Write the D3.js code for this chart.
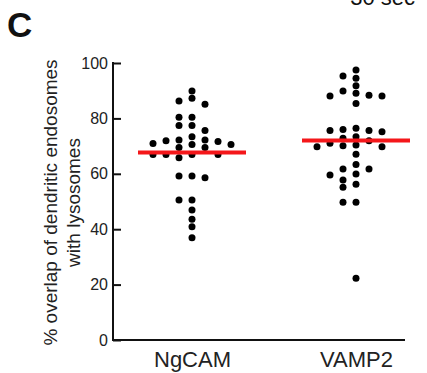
<!DOCTYPE html>
<html>
<head>
<meta charset="utf-8">
<script src="https://cdn.jsdelivr.net/npm/d3@7"></script>
<style>
  html, body { margin: 0; padding: 0; background: #fff; }
  svg { display: block; font-family: "Liberation Sans", Arial, sans-serif; }
</style>
</head>
<body>
<svg id="chart" width="427" height="373"></svg>
<script>
const categories = ["NgCAM", "VAMP2"];
const ngcamValues = [89.9, 87.3, 86.3, 85.1, 80.4, 80.4, 77.4, 77.4, 75.6, 73.4, 72.2, 72.2, 71.9, 71.7, 70.9, 70.6, 70.6, 69.5, 69.5, 67.0, 67.0, 67.0, 67.0, 65.8, 59.2, 59.2, 58.6, 50.5, 50.5, 46.9, 43.6, 40.9, 36.9];
const vamp2Values = [97.5, 95.3, 94.5, 91.8, 89.9, 89.1, 88.4, 88.1, 88.1, 85.4, 76.4, 76.0, 75.6, 75.6, 75.2, 73.4, 72.8, 71.9, 71.0, 70.4, 70.1, 69.8, 69.8, 67.1, 63.4, 61.7, 61.7, 59.9, 59.6, 57.8, 56.2, 55.1, 49.7, 49.7, 22.3];
const yTicks = [0, 20, 40, 60, 80, 100];
const panelLabel = "C";
const cornerText = "30 sec";
const yTitleLines = ["% overlap of dendritic endosomes", "with lysosomes"];

const seriesValues = [ngcamValues, vamp2Values];

const svg = d3.select("#chart");
const axisX = 113, plotRight = 405, yTop = 63, yBottom = 340;

const y = d3.scaleLinear().domain([0, 100]).range([yBottom, yTop]);
const x = d3.scalePoint().domain(categories).range([192, 356]);

// corner text (cut off at top, as in the reference)
svg.append("text").attr("x", 415).attr("y", 5).attr("text-anchor", "end")
  .attr("font-size", 22).attr("fill", "#111").text(cornerText);

// panel label
svg.append("text").attr("x", 7).attr("y", 37)
  .attr("font-size", 35).attr("font-weight", "bold").attr("fill", "#111").text(panelLabel);

// y axis
const yAxis = d3.axisRight(y).tickValues(yTicks).tickSize(8).tickFormat(d3.format("d"));
const gy = svg.append("g").attr("transform", `translate(${axisX},0)`).call(yAxis);
gy.select(".domain").remove();
gy.selectAll(".tick line").attr("stroke", "#111").attr("stroke-width", 2);
gy.selectAll(".tick text").attr("x", -5).attr("text-anchor", "end")
  .attr("font-size", 16).attr("fill", "#222").attr("font-family", "Liberation Sans, Arial, sans-serif");
svg.append("line").attr("x1", axisX).attr("x2", axisX).attr("y1", yTop - 1).attr("y2", yBottom + 1)
  .attr("stroke", "#111").attr("stroke-width", 2);

// x axis
const xAxis = d3.axisBottom(x).tickSize(0).tickPadding(11);
const gx = svg.append("g").attr("transform", `translate(0,${yBottom})`).call(xAxis);
gx.select(".domain").remove();
gx.selectAll(".tick text").attr("font-size", 22).attr("fill", "#222")
  .attr("font-family", "Liberation Sans, Arial, sans-serif");
svg.append("line").attr("x1", axisX - 1).attr("x2", plotRight).attr("y1", yBottom).attr("y2", yBottom)
  .attr("stroke", "#111").attr("stroke-width", 2);

// y title
const tt = svg.append("text").attr("transform", `translate(57,${(yTop + yBottom) / 2 + 1}) rotate(-90)`)
  .attr("text-anchor", "middle").attr("font-size", 19).attr("fill", "#222");
tt.append("tspan").attr("x", 0).attr("dy", 0).text(yTitleLines[0]);
tt.append("tspan").attr("x", 0).attr("dy", 23).text(yTitleLines[1]);

// beeswarm layout (greedy, computed from values)
const r = 3.5, step = 6.5, minDx = 12.5, minDy = 7;
function swarm(values, cx) {
  const sorted = values.map((v, i) => ({ v, i })).sort((a, b) => b.v - a.v);
  const placed = [];
  sorted.forEach(d => {
    const py = y(d.v);
    for (let k = 0; k < 40; k++) {
      const cands = k === 0 ? [0] : [-k, k];
      let done = false;
      for (const c of cands) {
        const px = cx + c * step;
        const clash = placed.some(p => Math.abs(p.x - px) < minDx && Math.abs(p.y - py) < minDy);
        if (!clash) { placed.push({ x: px, y: py, v: d.v }); done = true; break; }
      }
      if (done) break;
    }
  });
  return placed;
}

categories.forEach((cat, ci) => {
  const pts = swarm(seriesValues[ci], x(cat));
  svg.append("g").selectAll("circle").data(pts).join("circle")
    .attr("cx", d => d.x).attr("cy", d => d.y).attr("r", r).attr("fill", "#000");
  const m = d3.mean(seriesValues[ci]);
  svg.append("line").attr("x1", x(cat) - 54).attr("x2", x(cat) + 54)
    .attr("y1", y(m)).attr("y2", y(m)).attr("stroke", "#f4171a").attr("stroke-width", 4);
});
</script>
</body>
</html>
